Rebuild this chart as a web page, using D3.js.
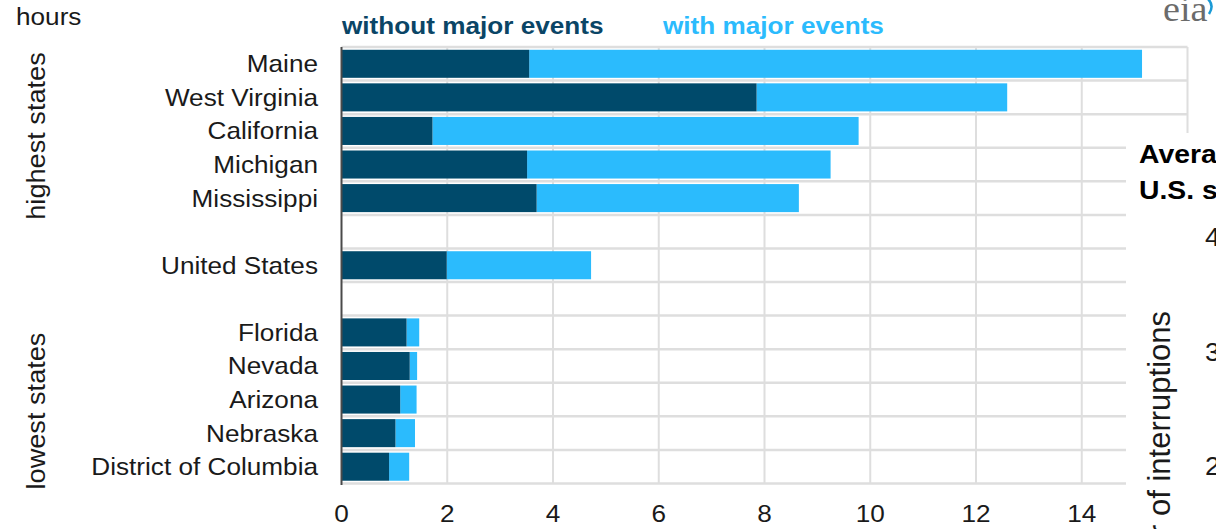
<!DOCTYPE html>
<html><head><meta charset="utf-8">
<script src="https://cdn.jsdelivr.net/npm/d3@7"></script>
<style>
html,body{margin:0;padding:0;background:#fff;}
svg{display:block;font-family:"Liberation Sans",Arial,sans-serif;}
</style></head>
<body>
<svg id="chart" width="1216" height="529"></svg>
<script>
// ---- data ----
const categories = ["Maine","West Virginia","California","Michigan","Mississippi","United States","Florida","Nevada","Arizona","Nebraska","District of Columbia"];
const withoutMajorEvents = [3.55,7.85,1.72,3.51,3.69,1.99,1.23,1.29,1.11,1.02,0.90];
const withMajorEvents    = [15.14,12.59,9.78,9.25,8.65,4.72,1.47,1.43,1.42,1.39,1.28];
const rowOrder = ["Maine","West Virginia","California","Michigan","Mississippi","gap1","United States","gap2","Florida","Nevada","Arizona","Nebraska","District of Columbia"];
const xTicks = [0,2,4,6,8,10,12,14,16];
const groupLabels = ["highest states","lowest states"];
const seriesNames = ["without major events","with major events"];
const insetTicks = [4,3,2];

const DARK = "#004a6b", LIGHT = "#2bbbfd", GRID = "#dedede", TXT = "#1a1a1a";
const SX = 1.09;

const svg = d3.select("#chart");
const x = d3.scaleLinear().domain([0,16]).range([341.5,1187.5]);
const y = d3.scaleBand().domain(rowOrder).range([47,483.5]).padding(0);
const barH = y.bandwidth()*0.835;

function stretchText(sel, px, py){
  return sel.attr("transform", `translate(${px},${py}) scale(${SX},1)`);
}

// grid
const g = svg.append("g");
g.selectAll("line.vg").data(xTicks.slice(1)).join("line")
  .attr("x1",d=>x(d)).attr("x2",d=>x(d)).attr("y1",47).attr("y2",483.5)
  .attr("stroke",GRID).attr("stroke-width",2);
const bounds = rowOrder.map(r=>y(r)).concat([y(rowOrder[rowOrder.length-1])+y.bandwidth()]);
g.selectAll("line.hg").data(bounds).join("line")
  .attr("x1",x(0)).attr("x2",x(16)).attr("y1",d=>d).attr("y2",d=>d)
  .attr("stroke",GRID).attr("stroke-width",2.5);

// bars
const data = categories.map((c,i)=>({c, a:withoutMajorEvents[i], b:withMajorEvents[i]}));
const bars = svg.append("g");
bars.selectAll("rect.light").data(data).join("rect")
  .attr("x",d=>x(d.a)).attr("width",d=>x(d.b)-x(d.a))
  .attr("y",d=>y(d.c)+(y.bandwidth()-barH)/2).attr("height",barH)
  .attr("fill",LIGHT);
bars.selectAll("rect.dark").data(data).join("rect")
  .attr("x",x(0)).attr("width",d=>x(d.a)-x(0))
  .attr("y",d=>y(d.c)+(y.bandwidth()-barH)/2).attr("height",barH)
  .attr("fill",DARK);

// zero axis line
svg.append("line").attr("x1",x(0)).attr("x2",x(0)).attr("y1",47).attr("y2",485)
  .attr("stroke","#4a4a4a").attr("stroke-width",2);

// category labels
svg.append("g").selectAll("text").data(categories).join("text")
  .each(function(d){ stretchText(d3.select(this), 318, y(d)+y.bandwidth()/2+8.5); })
  .attr("text-anchor","end").attr("font-size",24).attr("fill",TXT).text(d=>d);

// x tick labels
svg.append("g").selectAll("text").data(xTicks).join("text")
  .each(function(d){ stretchText(d3.select(this), x(d), 522); })
  .attr("text-anchor","middle").attr("font-size",24).attr("fill",TXT).text(d=>d);

// unit label
stretchText(svg.append("text"),16,25).attr("font-size",24).attr("fill",TXT).text("hours");

// legend
stretchText(svg.append("text"),342,34.3).attr("font-size",24).attr("font-weight","bold").attr("fill","#0a4566").text(seriesNames[0]);
stretchText(svg.append("text"),663,34.3).attr("font-size",24).attr("font-weight","bold").attr("fill",LIGHT).text(seriesNames[1]);

// group labels (rotated)
const gy = [136, 411];
svg.append("g").selectAll("text").data(groupLabels).join("text")
  .attr("transform",(d,i)=>`translate(45,${gy[i]}) rotate(-90) scale(1.065,1)`)
  .attr("text-anchor","middle").attr("font-size",25.5).attr("fill",TXT).text(d=>d);

// eia logo
stretchText(svg.append("text"),1163,20.5).attr("font-family","Liberation Serif, serif")
  .attr("font-size",35).attr("fill","#6b6b6b").text("eia");
svg.append("path").attr("d","M1207,-2 Q1215,5 1209,14").attr("fill","none").attr("stroke","#1a9ad6").attr("stroke-width",2.5);

// overlapping inset panel (neighbouring chart)
svg.append("rect").attr("x",1126).attr("y",133).attr("width",90).attr("height",396).attr("fill","#fff");
stretchText(svg.append("text"),1139,163).attr("font-size",26).attr("font-weight","bold").attr("fill","#000").text("Average");
stretchText(svg.append("text"),1139,199).attr("font-size",26).attr("font-weight","bold").attr("fill","#000").text("U.S. share");
const iy = d3.scaleLinear().domain([4,2]).range([246,475]);
svg.append("g").selectAll("text").data(insetTicks).join("text")
  .each(function(d){ stretchText(d3.select(this), 1205, iy(d)); })
  .attr("font-size",25).attr("fill",TXT).text(d=>d);
svg.append("text").attr("transform","translate(1170,311) rotate(-90)")
  .attr("text-anchor","end").attr("font-size",31).attr("fill",TXT).text("number of interruptions");
</script>
</body></html>
